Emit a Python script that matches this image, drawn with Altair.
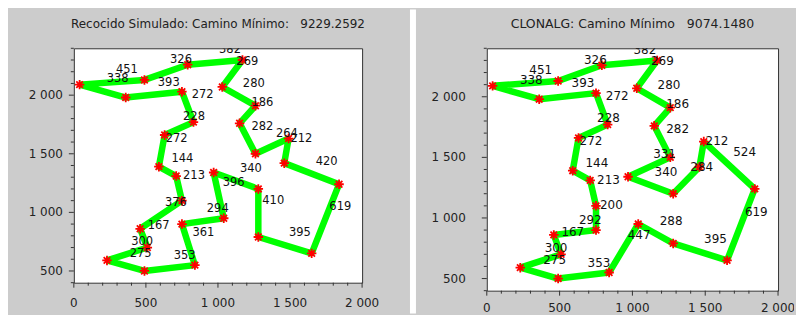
import altair as alt
import pandas as pd

# bays29 city coordinates (city 1..29)
CITY_X = [1150, 630, 40, 750, 750, 1030, 1650, 1490, 790, 710, 840, 1170, 970, 510, 750,
          1280, 230, 460, 1040, 590, 830, 490, 1840, 1260, 1280, 490, 1460, 1260, 360]
CITY_Y = [1760, 1660, 2090, 1100, 2030, 2070, 650, 1630, 2260, 1310, 550, 2300, 1340, 700, 900,
          1200, 590, 860, 950, 1390, 1770, 500, 1240, 1500, 790, 2130, 1420, 1910, 1980]

SA_TOUR = [3, 26, 9, 12, 6, 28, 1, 24, 8, 27, 23, 7, 25, 16, 13, 19, 15, 11, 22, 17, 14, 18,
           4, 10, 20, 2, 21, 5, 29]
SA_LABELS = [451, 326, 382, 269, 280, 186, 282, 264, 212, 420, 619, 395, 410, 340, 396, 294,
             361, 353, 275, 300, 167, 376, 213, 144, 272, 228, 272, 393, 338]
SA_TITLE = "Recocido Simulado: Camino M\u00ednimo:\u00a0\u00a0\u00a09229.2592"

CL_TOUR = [3, 26, 9, 12, 6, 28, 1, 24, 13, 16, 27, 8, 23, 7, 25, 19, 11, 22, 17, 14, 18, 15,
           4, 10, 20, 2, 21, 5, 29]
CL_LABELS = [451, 326, 382, 269, 280, 186, 282, 331, 340, 284, 212, 524, 619, 395, 288, 447,
             353, 275, 300, 167, 292, 200, 213, 144, 272, 228, 272, 393, 338]
CL_TITLE = "CLONALG: Camino M\u00ednimo\u00a0\u00a0\u00a09074.1480"

X_MAJOR = [0, 500, 1000, 1500, 2000]
X_MAJOR_LABELS = ["0", "500", "1\u00a0000", "1\u00a0500", "2\u00a0000"]
Y_MAJOR = [500, 1000, 1500, 2000]
Y_MAJOR_LABELS = ["500", "1\u00a0000", "1\u00a0500", "2\u00a0000"]
X_MINOR = [v for v in range(0, 2001, 100) if v % 500]
Y_MINOR = [v for v in range(400, 2401, 100) if v % 500]

STAR = "M-1,0L1,0M0,-1L0,1M-0.7,-0.7L0.7,0.7M-0.7,0.7L0.7,-0.7"
FONT = "DejaVu Sans"
TICK_COL = "#333333"
TXT_COL = "#222222"


def panel(tour, labels, title, W, H, title_size, lab_size, ylab_x, xlab_y, deco):
    closed = tour + [tour[0]]
    path = pd.DataFrame({
        "step": list(range(len(closed))),
        "x": [CITY_X[c - 1] for c in closed],
        "y": [CITY_Y[c - 1] for c in closed],
    })
    pts = pd.DataFrame({
        "x": [CITY_X[c - 1] for c in tour],
        "y": [CITY_Y[c - 1] for c in tour],
    })
    edges = pd.DataFrame({
        "x": [(CITY_X[a - 1] + CITY_X[b - 1]) / 2 for a, b in zip(closed[:-1], closed[1:])],
        "y": [(CITY_Y[a - 1] + CITY_Y[b - 1]) / 2 for a, b in zip(closed[:-1], closed[1:])],
        "label": [str(v) for v in labels],
    })
    xs = alt.Scale(domain=[0, 2000], nice=False, zero=False)
    ys = alt.Scale(domain=[400, 2400], nice=False, zero=False)
    X = lambda f="x": alt.X(f"{f}:Q", scale=xs, axis=None)
    Y = lambda f="y": alt.Y(f"{f}:Q", scale=ys, axis=None)

    line = alt.Chart(path).mark_line(color="#00ff00", strokeWidth=6.5, strokeJoin="bevel").encode(
        x=X(), y=Y(), order="step:Q")

    xmaj = pd.DataFrame({"x": X_MAJOR, "label": X_MAJOR_LABELS})
    ymaj = pd.DataFrame({"y": Y_MAJOR, "label": Y_MAJOR_LABELS})
    xminor = alt.Chart(pd.DataFrame({"x": X_MINOR})).mark_rule(color=TICK_COL, strokeWidth=1).encode(
        x=X(), y=alt.value(H), y2=alt.value(H + 3))
    yminor = alt.Chart(pd.DataFrame({"y": Y_MINOR})).mark_rule(color=TICK_COL, strokeWidth=1).encode(
        y=Y(), x=alt.value(-3), x2=alt.value(0))
    xmajor = alt.Chart(xmaj).mark_rule(color=TICK_COL, strokeWidth=1).encode(
        x=X(), y=alt.value(H), y2=alt.value(H + 5))
    ymajor = alt.Chart(ymaj).mark_rule(color=TICK_COL, strokeWidth=1).encode(
        y=Y(), x=alt.value(-5), x2=alt.value(0))
    xlab = alt.Chart(xmaj).mark_text(align="center", baseline="top", font=FONT, fontSize=12,
                                     color=TXT_COL).encode(
        x=X(), y=alt.value(xlab_y), text="label:N")
    ylab = alt.Chart(ymaj).mark_text(align="right", baseline="middle", font=FONT, fontSize=12,
                                     color=TXT_COL).encode(
        y=Y(), x=alt.value(ylab_x), text="label:N")

    points = alt.Chart(pts).mark_point(shape=STAR, size=90, filled=False, color="#ff0000",
                                       strokeWidth=1.8, opacity=1).encode(x=X(), y=Y())
    text = alt.Chart(edges).mark_text(align="left", baseline="alphabetic", dx=4, dy=-9,
                                      clip=True, font=FONT, fontSize=lab_size,
                                      color="#111111").encode(x=X(), y=Y(), text="label:N")
    one = pd.DataFrame({"k": [0]})
    ttl = alt.Chart(one).mark_text(text=title, align="center", baseline="alphabetic",
                                   font=FONT, fontSize=title_size, color=TXT_COL).encode(
        x=alt.value(W / 2), y=alt.value(-20))
    layers = [line, xminor, yminor, xmajor, ymajor, xlab, ylab]
    for (x1, x2, y1, y2, col) in deco:
        layers.append(alt.Chart(one).mark_rect(color=col, opacity=1).encode(
            x=alt.value(x1), x2=alt.value(x2), y=alt.value(y1), y2=alt.value(y2)))
    layers += [points, text, ttl]
    return alt.layer(*layers).properties(width=W, height=H)


left = panel(SA_TOUR, SA_LABELS, SA_TITLE, 289, 235, 12, 11.5, -11, 250,
             [(337, 343, -39, 266, "white"), (-65, -64, -39, 266, "#cccccc")])
right = panel(CL_TOUR, CL_LABELS, CL_TITLE, 292, 243, 12.5, 12, -21, 255,
              [(308, 309, -39, 266, "#cccccc")])

chart = alt.hconcat(left, right, spacing=125, bounds="flush").properties(
    padding=0, background="#cccccc"
).configure_view(stroke="#333333", strokeWidth=1, fill="white")

chart.save("out.html", embed_options={"renderer": "svg", "actions": False})
